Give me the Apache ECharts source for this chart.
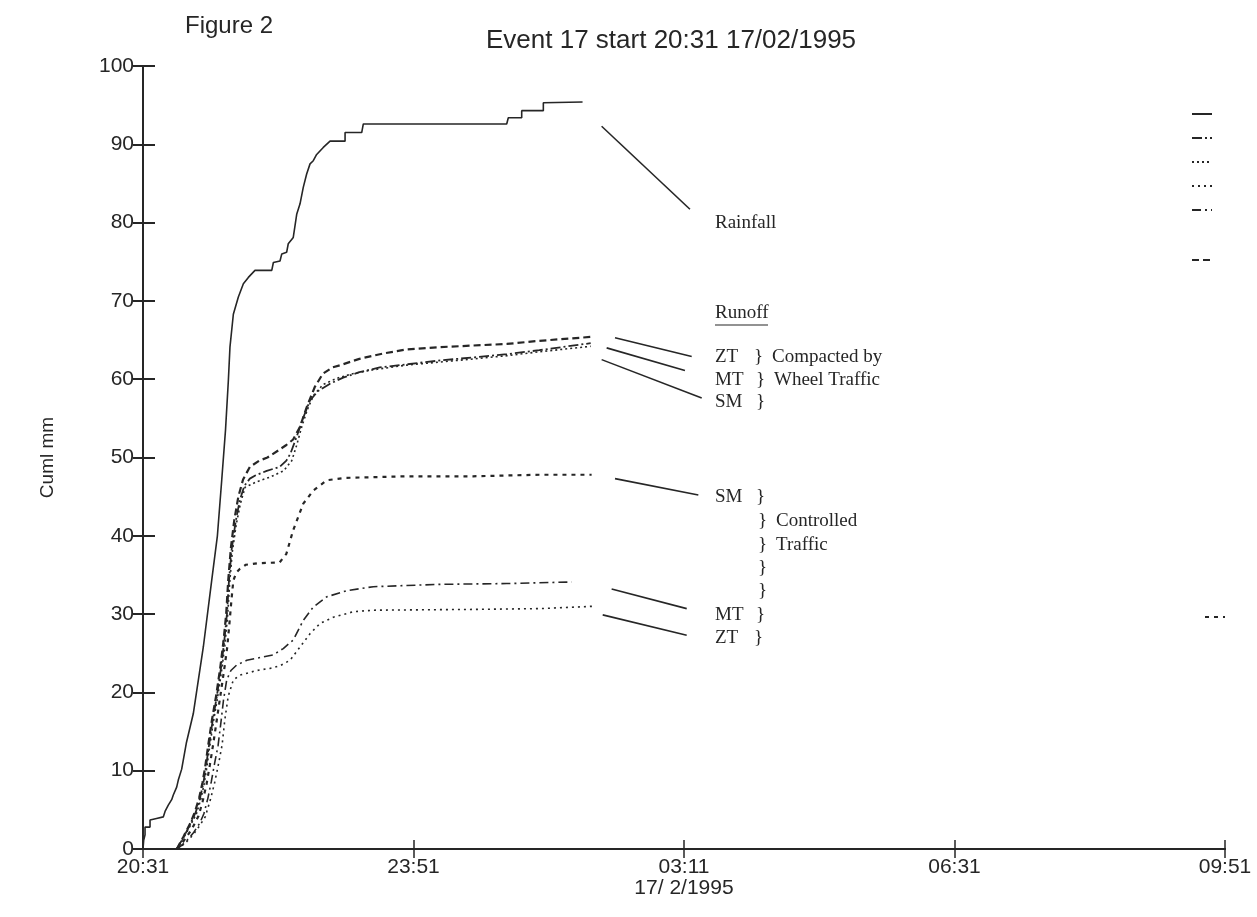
<!DOCTYPE html>
<html>
<head>
<meta charset="utf-8">
<script src="https://cdn.jsdelivr.net/npm/echarts@6/dist/echarts.min.js"></script>
<style>
  html, body { margin: 0; background: #fff; }
  #chart { width: 1257px; height: 917px; }
</style>
</head>
<body>
<div id="chart"></div>
<script>
// minutes after 20:31, cumulative mm
const xTickLabels = ["20:31", "23:51", "03:11", "06:31", "09:51"];

const rainfall = [[0,0],[0.5,1.1],[1.5,1.8],[1.5,2.8],[5.2,2.8],[5.2,3.7],[10,3.9],[11.3,4.1],[15,4.1],[16.3,4.8],[18.7,5.6],[21.2,6.3],[22.4,6.9],[24.9,7.9],[26.1,8.8],[28.6,10.2],[32,13.5],[37.2,17.3],[44.6,25.8],[50.8,34.3],[55,40],[58.2,47.1],[61,53.5],[63.1,59.8],[64.3,64.1],[66.8,68.3],[70.5,70.5],[74.2,72.2],[77.9,73],[82.8,73.9],[95.2,73.9],[96.4,74.9],[101.3,75.1],[102.6,76],[106.2,76.2],[107.4,77.3],[111.1,78.1],[113.7,81.1],[116.1,82.4],[118.5,84.5],[121,86.2],[123.5,87.5],[125.9,87.9],[128.4,88.7],[133.3,89.6],[138.3,90.4],[149.4,90.4],[149.4,91.5],[161.7,91.5],[162.9,92.6],[268.9,92.6],[270.1,93.4],[280,93.4],[280,94.3],[296,94.3],[296,95.3],[325,95.4]];

// compacted by wheel traffic
const compZT = [[25,0],[30,1.6],[35,3.3],[38.5,4.8],[41.5,6.5],[44,8.5],[46,10.5],[48,13],[51,16.5],[54,19.5],[57,23],[59.5,26.5],[61.5,30],[63,34.3],[65,38.5],[67.5,42],[70.5,45],[74,47.2],[79,48.8],[86,49.6],[92,50],[100,50.9],[106,51.6],[111,52.3],[116,53.9],[121,56.4],[127,59],[133,60.7],[140,61.5],[146,61.8],[160,62.6],[178,63.3],[195,63.8],[220,64.1],[244,64.3],[269,64.5],[293,64.9],[331,65.4]];
const compMT = [[25,0],[30,1.5],[35,3.2],[39,4.7],[42,6.4],[44.5,8.3],[46.5,10.4],[48.5,12.9],[51.5,16.4],[54.5,19.4],[57.5,22.9],[60,26.4],[62,29.9],[63.5,34.1],[65.5,38.2],[68.5,41.8],[71.5,44.5],[75,46.4],[79,47.3],[83,47.7],[91.5,48.3],[101,48.8],[106,49.6],[109,50.5],[113.5,52.6],[118.5,55.1],[123.5,57.3],[129.5,58.5],[138,59.4],[148,60.2],[160,60.9],[175,61.5],[195,61.9],[220,62.4],[245,62.8],[269,63.2],[293,63.7],[331,64.6]];
const compSM = [[25,0],[30,1.4],[35,3],[39.5,4.5],[42.5,6.2],[45,8.1],[47,10.2],[49,12.7],[52,16.2],[55,19.2],[58,22.6],[60.5,26],[62.5,29.6],[64,33.8],[66,37.9],[69,41.5],[72,44.1],[75.5,46.2],[84,46.9],[94,47.5],[104,48.3],[110,49.6],[113.5,51.5],[117.5,54],[121.5,56.1],[126,57.9],[133,59.3],[143,60.1],[155,60.7],[170,61.2],[195,61.8],[220,62.2],[245,62.6],[269,63],[293,63.5],[331,64.2]];

// controlled traffic
const ctrlSM = [[25,0],[30,1],[36,2.5],[41,4.2],[44,6],[47,8.3],[49.5,10.8],[52,13.5],[55,17],[58,20.5],[60.5,23.5],[62.3,25.8],[64,29],[65.5,32],[66.8,34.3],[69,35.3],[71.7,35.8],[76,36.3],[85,36.5],[101,36.6],[106,37.7],[111,40.7],[118.5,44.1],[126,45.8],[136,47.1],[150,47.4],[195,47.6],[244,47.6],[293,47.8],[331.7,47.8]];
const ctrlMT = [[25,0],[31,0.8],[37,2],[42,3.3],[45,4.5],[48,6.5],[50.5,8.6],[53,11],[55.5,13.2],[57.5,16],[59.5,19],[61.9,21.6],[65,22.8],[69.3,23.5],[76.7,24.1],[88,24.5],[96.4,24.8],[103.7,25.6],[111.1,26.7],[118.5,29.2],[125.9,30.9],[135.8,32.2],[150.6,33],[170.3,33.5],[219.6,33.8],[268.9,33.9],[316.9,34.1]];
const ctrlZT = [[25,0],[31,0.7],[37,1.8],[42,3],[46,4.1],[50,6.4],[53,8.5],[56,11],[58.5,13.3],[60.5,16.5],[63,19.5],[66.8,21.6],[71.7,22.2],[84.1,22.8],[95,23.1],[101.3,23.4],[108.7,24.1],[116.1,25.8],[123.5,27.5],[130.9,28.8],[140.7,29.6],[155.5,30.3],[170.3,30.5],[244.2,30.6],[293.5,30.7],[333,31]];

// leader lines from curve ends to the labels
const leaders = [
  [[339.1,92.3],[404.4,81.7]],
  [[349.0,65.3],[405.7,62.9]],
  [[342.8,64.0],[400.7,61.1]],
  [[339.1,62.5],[413.1,57.6]],
  [[349.0,47.3],[410.6,45.2]],
  [[346.5,33.2],[402.0,30.7]],
  [[339.9,29.9],[402.0,27.3]]
];

var ink = "#262626";
var serif = '19px "Liberation Serif"';
var sans = '"Liberation Sans"';

var chart = echarts.init(document.getElementById("chart"), null, { renderer: "canvas" });

function mkLine(name, data, dash, width) {
  return {
    name: name,
    type: "line",
    data: data,
    symbol: "none",
    showSymbol: false,
    silent: true,
    lineStyle: { color: ink, width: width, type: dash },
    itemStyle: { color: ink },
  };
}

function txt(x, y, s) {
  return { type: "text", left: x, top: y - 11, style: { text: s, font: serif, fill: ink } };
}

var series = [
  mkLine("Rainfall", rainfall, "solid", 1.6),
  mkLine("Compacted ZT", compZT, [7, 4], 2.2),
  mkLine("Compacted MT", compMT, [10, 3, 2, 3], 1.8),
  mkLine("Compacted SM", compSM, [2, 3], 1.6),
  mkLine("Controlled SM", ctrlSM, [4, 5], 2.2),
  mkLine("Controlled MT", ctrlMT, [9, 4, 2, 4], 1.6),
  mkLine("Controlled ZT", ctrlZT, [2, 4], 1.6),
];

series[0].markLine = {
  silent: true,
  animation: false,
  symbol: ["none", "none"],
  label: { show: false },
  lineStyle: { color: ink, width: 1.6, type: "solid" },
  data: leaders.map(function (l) {
    return [{ coord: l[0] }, { coord: l[1] }];
  }),
};

var legendBase = {
  orient: "vertical",
  left: 1186,
  itemWidth: 20,
  itemHeight: 10,
  itemGap: 15,
  formatter: function () { return ""; },
  selectedMode: false,
  itemStyle: { opacity: 0 },
  textStyle: { fontSize: 1 },
};

var option = {
  animation: false,
  backgroundColor: "#fff",
  grid: { left: 143, right: 32, top: 66, bottom: 68 },
  legend: [
    Object.assign({}, legendBase, { top: 104, data: ["Rainfall", "Compacted MT", "Compacted SM", "Controlled ZT", "Controlled MT"] }),
    Object.assign({}, legendBase, { top: 250, data: ["Compacted ZT"] }),
    Object.assign({}, legendBase, { top: 607, left: 1199, data: ["Controlled SM"] }),
  ],
  xAxis: [
    {
      type: "value",
      min: 0,
      max: 800,
      interval: 200,
      splitLine: { show: false },
      axisLine: { onZero: false, lineStyle: { color: ink, width: 2 } },
      axisTick: { inside: true, length: 9, lineStyle: { color: ink, width: 1.5 } },
      axisLabel: {
        color: ink,
        fontFamily: sans,
        fontSize: 21,
        lineHeight: 21,
        margin: 8,
        formatter: function (v) {
          var s = xTickLabels[Math.round(v / 200)];
          return v === 400 ? s + "\n17/ 2/1995" : s;
        },
      },
    },
    {
      type: "value",
      position: "top",
      min: 0,
      max: 800,
      interval: 200,
      splitLine: { show: false },
      axisLine: { lineStyle: { color: ink, width: 2 } },
      axisTick: { inside: true, length: 9, lineStyle: { color: ink, width: 1.5 } },
      axisLabel: { show: false },
    },
  ],
  yAxis: [
    {
      type: "value",
      min: 0,
      max: 100,
      interval: 10,
      name: "Cuml mm",
      nameLocation: "middle",
      nameGap: 86,
      nameRotate: 90,
      nameTextStyle: { color: ink, fontFamily: sans, fontSize: 19 },
      splitLine: { show: false },
      axisLine: { lineStyle: { color: ink, width: 2 } },
      axisTick: { inside: true, length: 12, lineStyle: { color: ink, width: 2 } },
      axisLabel: { color: ink, fontFamily: sans, fontSize: 21, margin: 9 },
    },
    {
      type: "value",
      position: "right",
      min: 0,
      max: 100,
      interval: 10,
      splitLine: { show: false },
      axisLine: { lineStyle: { color: ink, width: 2 } },
      axisTick: { inside: true, length: 10, lineStyle: { color: ink, width: 2 } },
      axisLabel: { show: false },
    },
  ],
  graphic: [
    { type: "text", left: 185, top: 14, style: { text: "Figure 2", font: "24px " + sans, fill: ink } },
    { type: "text", left: 486, top: 28, style: { text: "Event 17 start 20:31 17/02/1995", font: "26px " + sans, fill: ink } },
    txt(715, 225, "Rainfall"),
    txt(715, 315, "Runoff"),
    { type: "line", shape: { x1: 715, y1: 325, x2: 768, y2: 325 }, style: { stroke: ink, lineWidth: 1.2 } },
    txt(715, 359, "ZT"), txt(754, 359, "}"), txt(772, 359, "Compacted by"),
    txt(715, 382, "MT"), txt(756, 382, "}"), txt(774, 382, "Wheel Traffic"),
    txt(715, 404, "SM"), txt(756, 404, "}"),
    txt(715, 499, "SM"), txt(756, 499, "}"),
    txt(758, 523, "}"), txt(776, 523, "Controlled"),
    txt(758, 547, "}"), txt(776, 547, "Traffic"),
    txt(758, 570, "}"),
    txt(758, 593, "}"),
    txt(715, 617, "MT"), txt(756, 617, "}"),
    txt(715, 640, "ZT"), txt(754, 640, "}"),
  ],
  series: series,
};

chart.setOption(option);

window.addEventListener("resize", function () {
  chart.resize();
});
</script>
</body>
</html>
